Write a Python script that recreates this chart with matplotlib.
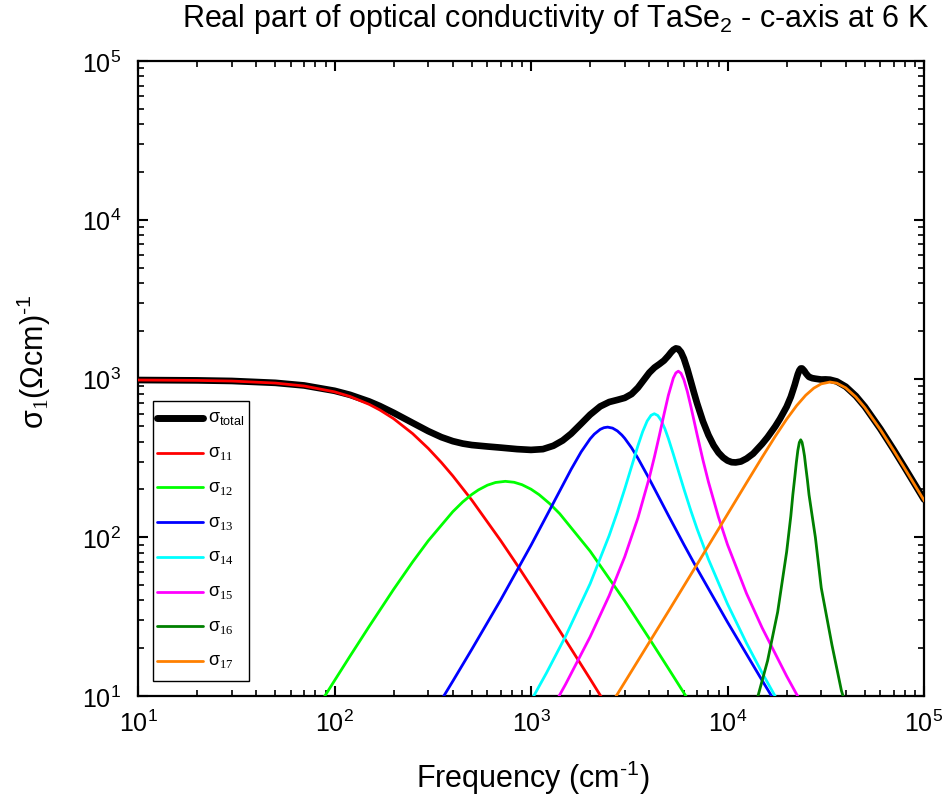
import matplotlib
matplotlib.use("Agg")
import matplotlib.pyplot as plt
from matplotlib.lines import Line2D
from matplotlib.patches import Rectangle
from matplotlib.ticker import LogLocator, NullFormatter

plt.rcParams['font.family'] = ['Liberation Sans', 'DejaVu Sans']
plt.rcParams['mathtext.fontset'] = 'custom'
plt.rcParams['mathtext.rm'] = 'Liberation Sans'
plt.rcParams['mathtext.it'] = 'Liberation Sans:italic'
plt.rcParams['mathtext.bf'] = 'Liberation Sans:bold'
plt.rcParams['mathtext.sf'] = 'Liberation Serif'
plt.rcParams['mathtext.default'] = 'regular'

# --- sigma_1 of TaSe2 along c at 6 K, sampled curves (frequency in cm^-1, sigma in (Ohm cm)^-1)
f_total = [10, 20, 30, 50, 70, 100, 120, 150, 170, 200, 250, 300, 350, 400, 450, 500,
           600, 700, 850, 1000, 1150, 1300, 1450, 1600, 1800, 2000, 2250, 2500, 2750,
           3000, 3250, 3500, 3750, 4000, 4250, 4500, 4750, 5000, 5150, 5300, 5460,
           5620, 5800, 6000, 6250, 6500, 6750, 7000, 7500, 8000, 8500, 9000, 9500,
           10000, 10500, 11000, 11700, 12500, 13500, 15000, 16000, 17500, 18500,
           20000, 21000, 21500, 22000, 22400, 22800, 23200, 23580, 23950, 24300,
           24650, 25000, 25500, 26000, 27000, 28000, 30000, 31500, 33230, 36000,
           40000, 45000, 50000, 60000, 70000, 80000, 100000]
s_total = [978, 973, 965, 939, 904, 837, 789, 717, 671, 608, 525, 466, 427, 403, 389, 381,
           373, 367, 359, 355, 359, 377, 407, 449, 519, 592, 667, 711, 733,
           755, 798, 875, 979, 1088, 1172, 1232, 1297, 1391, 1457, 1514, 1548,
           1536, 1466, 1336, 1144, 964, 815, 698, 537, 440, 379, 341, 318,
           304, 297, 296, 300, 313, 336, 387, 427, 499, 557,
           664, 766, 837, 914, 989, 1065, 1124, 1156, 1157, 1136,
           1113, 1082, 1050, 1023, 1005, 997, 985, 987, 983, 958,
           888, 776, 664, 481, 357, 273, 173]

# Drude term
f_11 = [10, 20, 30, 50, 70, 100, 120, 150, 170, 200, 250, 300, 350, 400, 500, 700,
        850, 1000, 1200, 1500, 2000, 2500]
s_11 = [978.1, 972.6, 963.6, 935.8, 897.0, 824.3, 770.3, 687.6, 633.8, 558.1, 449.2,
        362.8, 295.6, 243.5, 171.2, 95.5, 66.9, 49.2, 34.7, 22.5, 12.8, 8.2]

# Lorentz terms
f_12 = [70, 100, 120, 150, 200, 250, 300, 400, 450, 500, 540, 600, 660, 740, 820,
        900, 1000, 1100, 1250, 1400, 2000, 3000, 4000, 5000, 6000, 7000]
s_12 = [6.19, 12.5, 17.84, 27.4, 47.0, 70.0, 95.0, 144.9, 167.2, 186.2, 198.7, 212.8,
        221.3, 225, 222.0, 214.3, 200.8, 185.4, 162.1, 140.7, 81.7, 39.7, 23.0, 14.93,
        10.45, 7.71]

f_13 = [300, 400, 500, 700, 1000, 1300, 1600, 1800, 2000, 2100, 2250, 2350, 2455,
        2600, 2750, 2900, 3000, 3250, 3500, 4000, 4500, 5000, 6000, 7000, 10000,
        15000, 20000]
s_13 = [6.9, 12.4, 19.7, 40.2, 89.0, 164.4, 267.6, 345.0, 416.9, 446.3, 478.2, 489.9,
        494, 487.0, 467.7, 440.4, 419.7, 365.7, 314.7, 233.0, 176.4, 137.4, 89.9, 63.4,
        29.2, 12.54, 6.97]

f_14 = [900, 1000, 1200, 1500, 2000, 2500, 2750, 3000, 3250, 3500, 3700, 3900, 4080,
        4242, 4420, 4600, 4800, 5000, 5300, 5620, 6000, 6500, 7000, 8000, 10000,
        12500, 15000, 20000]
s_14 = [7.40, 9.31, 14.0, 23.8, 51.0, 102.6, 144.1, 201.6, 279.1, 376.9, 462.4, 539.5,
        585.9, 600, 584.4, 543.5, 482.8, 419.2, 333.8, 262.6, 201.4, 147.7, 112.95,
        72.6, 38.0, 21.5, 14.0, 7.39]

f_15 = [1200, 1500, 2000, 2500, 3000, 3500, 4000, 4250, 4500, 4750, 5000, 5300, 5460,
        5620, 5800, 6000, 6250, 6500, 6750, 7000, 7500, 8000, 9000, 10000, 12500,
        15000, 20000, 25000]
s_15 = [7.21, 11.86, 23.6, 42.9, 75.4, 132.3, 237.5, 321.8, 438, 593.2, 782.9, 1006.1,
        1084.4, 1112, 1078.9, 982.5, 825.0, 672.3, 544.7, 444.2, 306.7, 223.0, 133.7,
        89.9, 44.2, 26.9, 13.34, 8.07]

f_16 = [12000, 14000, 16000, 18000, 20000, 21000, 21500, 22000, 22400, 22800, 23200,
        23580, 23950, 24300, 24650, 25000, 25500, 26000, 27000, 28000, 30000, 34000,
        38000, 44000]
s_16 = [5.1, 9.1, 16.7, 33.8, 81, 136, 185, 239, 295, 352, 395.4, 411, 396.6, 362,
        325, 280, 230, 185, 135, 100, 48, 21, 10.8, 6]

f_17 = [2500, 3000, 4000, 5000, 7000, 8000, 10000, 12500, 15000, 17500, 20000, 22500,
        25000, 27500, 30000, 33230, 36000, 40000, 45000, 50000, 60000, 70000, 80000,
        100000]
s_17 = [8.48, 12.22, 21.8, 34.1, 67.5, 88.5, 139.6, 220.4, 319, 432.4, 554.4, 675.4,
        784.1, 869.8, 925.3, 950, 934.7, 872.8, 765.5, 655.8, 475.9, 352.8, 269.7,
        171.0]

W, H = 949, 803
fig = plt.figure(figsize=(W / 100, H / 100), dpi=100)
ax = fig.add_axes([138 / W, 106 / H, 786 / W, 635 / H])

ax.plot(f_total, s_total, color='black', lw=4.8, solid_joinstyle='round',
        solid_capstyle='round', zorder=2)
comps = [
    (f_11, s_11, '#ff0000'),
    (f_12, s_12, '#00ff00'),
    (f_13, s_13, '#0000ff'),
    (f_14, s_14, '#00ffff'),
    (f_15, s_15, '#ff00ff'),
    (f_16, s_16, '#008000'),
    (f_17, s_17, '#ff8000'),
]
for ff, ss, col in comps:
    ax.plot(ff, ss, color=col, lw=2.0, solid_joinstyle='round', zorder=3)

ax.set_xscale('log')
ax.set_yscale('log')
ax.set_xlim(10, 1e5)
ax.set_ylim(10, 1e5)
for axis in (ax.xaxis, ax.yaxis):
    axis.set_major_locator(LogLocator(base=10, numticks=10))
    axis.set_minor_locator(LogLocator(base=10, subs=range(2, 10), numticks=20))
    axis.set_minor_formatter(NullFormatter())
ax.tick_params(which='both', direction='in', top=True, right=True)
ax.tick_params(which='major', length=7, width=1.5, labelsize=18)
ax.tick_params(which='minor', length=4, width=1.2)
ax.tick_params(axis='x', which='major', pad=10)
ax.tick_params(axis='y', which='major', pad=12)
for sp in ax.spines.values():
    sp.set_linewidth(1.6)

fig.text(929 / W, 1 - 27 / H,
         r'Real part of optical conductivity of TaSe$_2$ - c-axis at 6 K',
         ha='right', va='baseline', fontsize=22)
fig.text(533 / W, 1 - 788 / H, r'Frequency (cm$^{\text{-}1}$)',
         ha='center', va='baseline', fontsize=22)
fig.text(34 / W, 1 - 362 / H, r'σ$_{\mathsf{1}}$(Ωcm)$^{\text{-}1}$',
         ha='center', va='center', rotation=90, fontsize=22)

# legend box drawn in figure pixels
leg_labels = [r'σ$_{total}$', r'σ$_{\mathsf{11}}$', r'σ$_{\mathsf{12}}$', r'σ$_{\mathsf{13}}$',
              r'σ$_{\mathsf{14}}$', r'σ$_{\mathsf{15}}$', r'σ$_{\mathsf{16}}$', r'σ$_{\mathsf{17}}$']
leg_colors = ['black'] + [c[2] for c in comps]
fig.add_artist(Rectangle((153 / W, 1 - 682 / H), 96 / W, 280 / H, transform=fig.transFigure,
                         facecolor='white', edgecolor='black', lw=1.0, zorder=5))
for i, (lab, col) in enumerate(zip(leg_labels, leg_colors)):
    yy = 1 - (419 + i * 34.7) / H
    lw = 5.0 if i == 0 else 2.0
    fig.add_artist(Line2D([157 / W, 203 / W], [yy, yy], transform=fig.transFigure,
                          color=col, lw=lw, solid_capstyle='round', zorder=6))
    fig.text(208 / W, yy, lab, ha='left', va='center', fontsize=13, zorder=6)

fig.savefig('out.png', dpi=100)
